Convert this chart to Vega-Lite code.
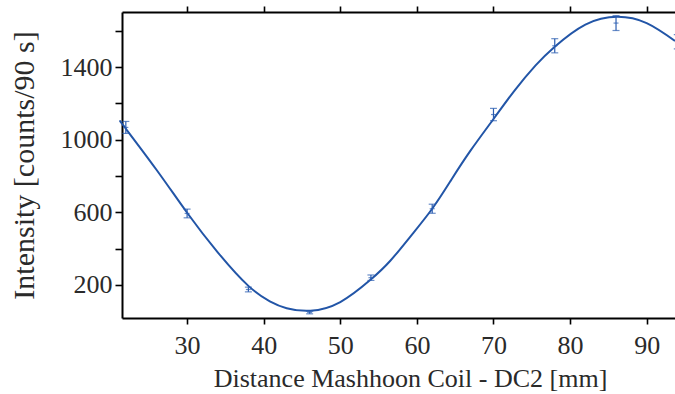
{
  "$schema": "https://vega.github.io/schema/vega-lite/v6.json",
  "width": 553,
  "height": 306,
  "autosize": {"type": "none"},
  "padding": {"left": 122, "top": 12, "right": 0, "bottom": 76},
  "background": "white",
  "config": {
    "view": {"stroke": null},
    "font": "Liberation Serif",
    "axis": {
      "grid": false,
      "domainColor": "black",
      "domainWidth": 2,
      "tickColor": "black",
      "tickWidth": 1.6,
      "tickSize": 6,
      "labelColor": "#2a2a2a",
      "labelFont": "Liberation Serif",
      "labelFontSize": 26,
      "titleColor": "#2a2a2a",
      "titleFont": "Liberation Serif",
      "titleFontSize": 26,
      "titleFontWeight": "normal"
    }
  },
  "datasets": {
    "curve": [
      {"d": 21.5, "I": 1090}, {"d": 21.8, "I": 1072}, {"d": 26, "I": 835},
      {"d": 30, "I": 598}, {"d": 34, "I": 380}, {"d": 38, "I": 195},
      {"d": 40.8, "I": 110}, {"d": 43, "I": 72}, {"d": 46.1, "I": 58},
      {"d": 50, "I": 106}, {"d": 53.9, "I": 227}, {"d": 56.5, "I": 332},
      {"d": 59.15, "I": 467}, {"d": 62, "I": 620}, {"d": 64.5, "I": 780},
      {"d": 67, "I": 940}, {"d": 70.1, "I": 1120}, {"d": 72.8, "I": 1274},
      {"d": 75.5, "I": 1410}, {"d": 78, "I": 1513}, {"d": 82, "I": 1635},
      {"d": 86.2, "I": 1678}, {"d": 90, "I": 1643}, {"d": 93.7, "I": 1545}
    ],
    "pts": [
      {"d": 22, "I": 1068, "lo": 1035, "hi": 1101},
      {"d": 30, "I": 594, "lo": 570, "hi": 618},
      {"d": 38, "I": 175, "lo": 162, "hi": 188},
      {"d": 46, "I": 48, "lo": 41, "hi": 55},
      {"d": 54, "I": 240, "lo": 225, "hi": 255},
      {"d": 62, "I": 620, "lo": 595, "hi": 645},
      {"d": 70, "I": 1139, "lo": 1105, "hi": 1173},
      {"d": 78, "I": 1518, "lo": 1479, "hi": 1557},
      {"d": 86, "I": 1643, "lo": 1602, "hi": 1684},
      {"d": 94, "I": 1540, "lo": 1501, "hi": 1579}
    ]
  },
  "layer": [
    {
      "data": {"name": "curve"},
      "mark": {"type": "line", "interpolate": "natural", "color": "#2255a7", "strokeWidth": 2},
      "encoding": {
        "x": {
          "field": "d", "type": "quantitative",
          "scale": {"domain": [21.5, 93.7], "nice": false, "zero": false},
          "axis": {
            "orient": "bottom",
            "values": [30, 40, 50, 60, 70, 80, 90],
            "labelPadding": 8,
            "title": "Distance Mashhoon Coil - DC2 [mm]",
            "titleFontSize": 26,
            "titlePadding": 7,
            "titleX": 288,
            "titleAlign": "center"
          }
        },
        "y": {
          "field": "I", "type": "quantitative",
          "scale": {"domain": [18, 1704], "nice": false, "zero": false},
          "axis": {
            "orient": "left",
            "values": [200, 400, 600, 800, 1000, 1200, 1400, 1600],
            "labelExpr": "datum.value % 400 == 200 ? datum.label : ''",
            "format": "d",
            "tickSize": 7,
            "labelPadding": 3,
            "title": "Intensity [counts/90 s]",
            "titleFontSize": 30,
            "titlePadding": 21
          }
        }
      }
    },
    {
      "data": {"name": "pts"},
      "mark": {"type": "rule", "color": "#2a5cb0", "strokeWidth": 1.2},
      "encoding": {
        "x": {
          "field": "d", "type": "quantitative",
          "axis": {
            "orient": "top",
            "values": [30, 40, 50, 60, 70, 80, 90],
            "labels": false,
            "title": null
          }
        },
        "y": {"field": "lo", "type": "quantitative", "axis": null},
        "y2": {"field": "hi"}
      }
    },
    {
      "data": {"name": "pts"},
      "mark": {"type": "tick", "orient": "horizontal", "color": "#2a5cb0", "size": 7, "thickness": 1.2},
      "encoding": {
        "x": {"field": "d", "type": "quantitative", "axis": null},
        "y": {"field": "lo", "type": "quantitative", "axis": null}
      }
    },
    {
      "data": {"name": "pts"},
      "mark": {"type": "tick", "orient": "horizontal", "color": "#2a5cb0", "size": 7, "thickness": 1.2},
      "encoding": {
        "x": {"field": "d", "type": "quantitative", "axis": null},
        "y": {"field": "hi", "type": "quantitative", "axis": null}
      }
    },
    {
      "data": {"name": "pts"},
      "mark": {"type": "tick", "orient": "horizontal", "color": "#2a5cb0", "size": 5, "thickness": 1.2},
      "encoding": {
        "x": {"field": "d", "type": "quantitative", "axis": null},
        "y": {"field": "I", "type": "quantitative", "axis": null}
      }
    }
  ],
  "resolve": {"axis": {"x": "independent", "y": "independent"}}
}
